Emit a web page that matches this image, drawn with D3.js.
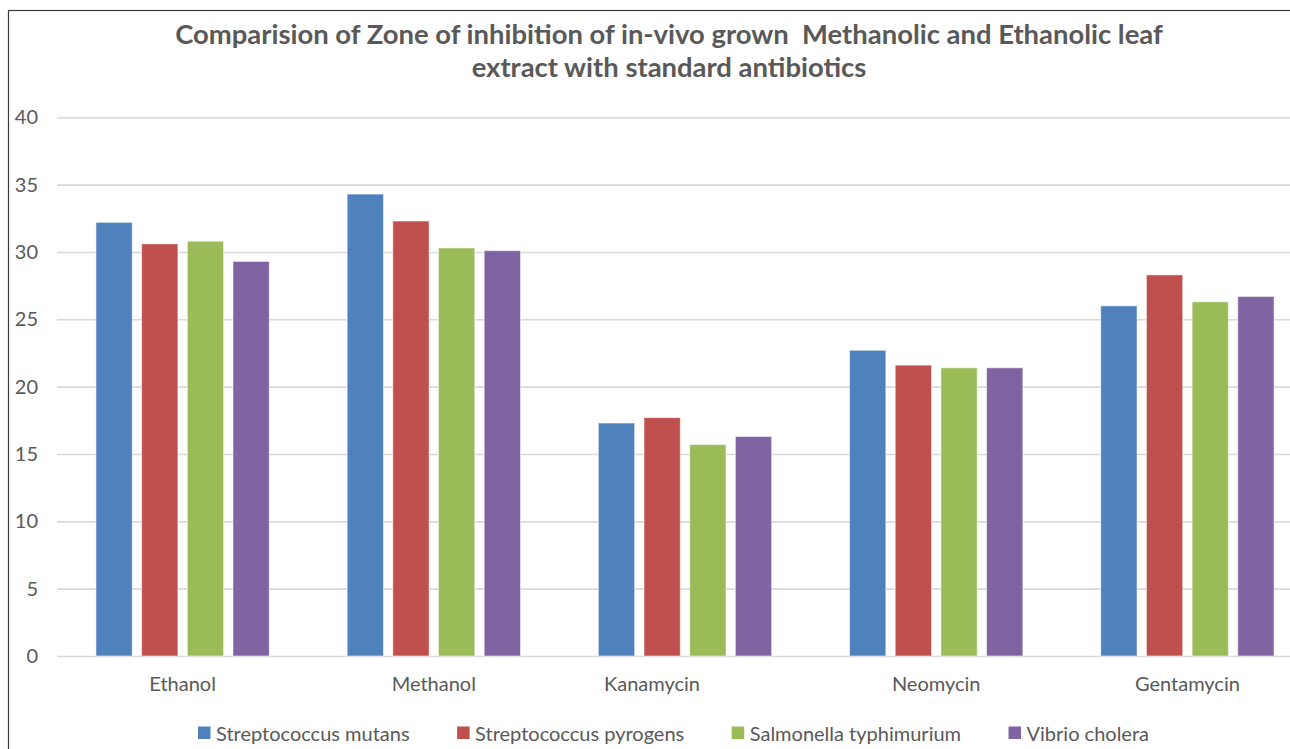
<!DOCTYPE html>
<html>
<head>
<meta charset="utf-8">
<script src="https://cdn.jsdelivr.net/npm/d3@7"></script>
<style>
  html, body { margin: 0; padding: 0; background: #fff; overflow: hidden; }
  svg { display: block; font-family: Lato, "Open Sans", sans-serif; }
</style>
</head>
<body>
<svg id="chart" width="1290" height="749"></svg>
<script>
// Zone of inhibition (mm) per extract / antibiotic and test organism
const categories = ["Ethanol", "Methanol", "Kanamycin", "Neomycin", "Gentamycin"];
const seriesNames = ["Streptococcus mutans", "Streptococcus pyrogens", "Salmonella typhimurium", "Vibrio cholera"];
const mutans      = [32.2, 34.3, 17.3, 22.7, 26.0];
const pyrogens    = [30.6, 32.3, 17.7, 21.6, 28.3];
const typhimurium = [30.8, 30.3, 15.7, 21.4, 26.3];
const cholera     = [29.3, 30.1, 16.3, 21.4, 26.7];
const yTicks = [0, 5, 10, 15, 20, 25, 30, 35, 40];
const titleLines = [
  "Comparision of Zone of inhibition of in-vivo grown  Methanolic and Ethanolic leaf",
  "extract with standard antibiotics"
];

const seriesValues = [mutans, pyrogens, typhimurium, cholera];
const colors = ["#4F81BD", "#C0504D", "#9BBB59", "#8064A2"];
const textColor = "#595959";
const labelSize = "20px";

const svg = d3.select("#chart");

// chart frame (extends past the visible window on the right and bottom)
svg.append("rect")
  .attr("x", 8.5).attr("y", 10.5)
  .attr("width", 1330).attr("height", 760)
  .attr("fill", "#fff").attr("stroke", "#3a3a3a").attr("stroke-width", 1.2);

const plot = { left: 57, right: 1313, top: 117.3, bottom: 656 };

const x0 = d3.scaleBand()
  .domain(categories)
  .range([plot.left, plot.right])
  .paddingInner(0.31)
  .paddingOuter(0.155);

const x1 = d3.scaleBand()
  .domain(seriesNames)
  .range([0, x0.bandwidth()])
  .paddingInner(0.205)
  .paddingOuter(0);

const y = d3.scaleLinear().domain([0, 40]).range([plot.bottom, plot.top]);

// horizontal gridlines + value labels
const yAxis = d3.axisLeft(y).tickValues(yTicks).tickSize(0).tickPadding(19);
const yg = svg.append("g").attr("transform", `translate(${plot.left},0)`).call(yAxis);
yg.select(".domain").remove();
yg.selectAll(".tick line")
  .attr("x2", plot.right - plot.left)
  .attr("stroke", "#d9d9d9").attr("stroke-width", 1.6);
yg.selectAll(".tick text")
  .attr("fill", textColor)
  .style("font-size", labelSize)
  .style("font-family", "Lato, sans-serif");

// bars
const groups = svg.append("g").selectAll("g")
  .data(categories)
  .join("g")
  .attr("transform", d => `translate(${x0(d)},0)`);

groups.selectAll("rect")
  .data((c, ci) => seriesNames.map((s, si) => ({ s, si, v: seriesValues[si][ci] })))
  .join("rect")
  .attr("x", d => x1(d.s))
  .attr("width", x1.bandwidth())
  .attr("y", d => y(d.v))
  .attr("height", d => y(0) - y(d.v))
  .attr("fill", d => colors[d.si])
  .attr("stroke", "rgba(255,255,255,0.55)")
  .attr("stroke-width", 1);

// category axis labels
const labelNudge = { Kanamycin: -33 };
const xAxis = d3.axisBottom(x0).tickSize(0).tickPadding(21);
const xg = svg.append("g").attr("transform", `translate(0,${plot.bottom})`).call(xAxis);
xg.select(".domain").remove();
xg.selectAll(".tick text")
  .attr("fill", textColor)
  .attr("dx", d => labelNudge[d] || 0)
  .style("font-size", labelSize)
  .style("font-family", "Lato, sans-serif");

// title, sized to span the same width as the heading line
const title = svg.append("g").attr("fill", textColor)
  .style("font-weight", "bold").style("font-family", "Lato, sans-serif");
const titleCx = 669;
const t1 = title.append("text").attr("x", titleCx).attr("y", 44)
  .attr("text-anchor", "middle").style("font-size", "26px")
  .style("white-space", "pre").text(titleLines[0]);
const w = t1.node().getComputedTextLength();
const fs = 26 * 988 / w;
t1.style("font-size", fs + "px");
title.append("text").attr("x", titleCx).attr("y", 77)
  .attr("text-anchor", "middle").style("font-size", fs + "px")
  .text(titleLines[1]);

// legend, entries spread evenly across the legend strip
const legendLeft = 198, legendRight = 1149;
const legend = svg.append("g");
const items = legend.selectAll("g").data(seriesNames).join("g");
items.append("rect").attr("width", 12.5).attr("height", 12.5)
  .attr("y", 726.5).attr("fill", (d, i) => colors[i]);
items.append("text").attr("x", 18).attr("y", 740.5)
  .attr("fill", textColor)
  .style("font-size", labelSize)
  .style("font-family", "Lato, sans-serif")
  .text(d => d);
const widths = [];
items.each(function () { widths.push(this.getBBox().width); });
const gap = (legendRight - legendLeft - d3.sum(widths)) / (widths.length - 1);
let cx = legendLeft;
items.attr("transform", (d, i) => {
  const tx = cx; cx += widths[i] + gap; return `translate(${tx},0)`;
});
</script>
</body>
</html>
